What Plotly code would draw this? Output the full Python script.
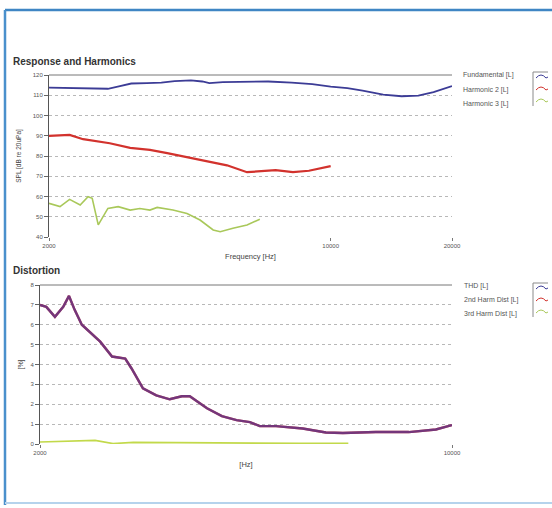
import math
import plotly.graph_objects as go

W, H = 552, 508

# ---------------- data: Response and Harmonics ----------------
FUND_FREQ = [2000, 2300, 2600, 2800, 3000, 3200, 3500, 3800, 4100, 4500, 4800, 5000,
             5400, 6000, 7000, 8000, 9000, 10000, 11000, 12000, 13500, 15000, 16500,
             18000, 20000]
FUND_SPL = [113.8, 113.5, 113.0, 113.2, 114.5, 115.8, 116.0, 116.2, 117.0, 117.3, 116.8,
            116.0, 116.5, 116.7, 116.8, 116.2, 115.5, 114.3, 113.5, 112.3, 110.3, 109.5,
            109.8, 111.5, 114.5]

H2_FREQ = [2000, 2250, 2430, 2680, 2830, 3180, 3560, 3930, 4400, 4930, 5530, 6200, 6800,
           7300, 8060, 8830, 10000]
H2_SPL = [89.9, 90.4, 88.3, 86.8, 86.3, 84.0, 83.0, 81.4, 79.4, 77.3, 75.4, 72.0, 72.7,
          73.0, 72.0, 72.7, 75.0]

H3_FREQ = [2000, 2130, 2250, 2390, 2500, 2560, 2650, 2800, 2970, 3180, 3360, 3560, 3710,
           4060, 4400, 4740, 5110, 5320, 5720, 6200, 6670]
H3_SPL = [56.6, 55.0, 58.6, 55.8, 59.9, 59.1, 46.0, 54.1, 55.0, 53.3, 54.1, 53.3, 54.6,
          53.3, 51.6, 48.4, 43.5, 42.6, 44.3, 45.9, 48.8]

# ---------------- data: Distortion ----------------
THD_FREQ = [2000, 2050, 2120, 2190, 2240, 2290, 2355, 2430, 2530, 2650, 2790, 2860, 2990,
            3150, 3320, 3480, 3590, 3840, 4070, 4310, 4540, 4720, 5030, 5580, 6110, 6530,
            7430, 8450, 9390, 10000]
THD_PCT = [7.0, 6.9, 6.4, 6.9, 7.45, 6.75, 6.0, 5.65, 5.15, 4.4, 4.3, 3.8, 2.8, 2.45, 2.25,
           2.4, 2.4, 1.8, 1.4, 1.2, 1.1, 0.9, 0.9, 0.78, 0.58, 0.55, 0.6, 0.6, 0.73, 0.95]

D2_FREQ = THD_FREQ
D2_PCT = [7.0, 6.9, 6.4, 6.9, 7.45, 6.75, 6.0, 5.65, 5.15, 4.4, 4.3, 3.8, 2.8, 2.45, 2.25,
          2.4, 2.4, 1.8, 1.4, 1.2, 1.1, 0.9, 0.9, 0.78, 0.58, 0.55, 0.6, 0.6, 0.73, 0.95]

D3_FREQ = [2000, 2250, 2480, 2660, 2880, 3400, 3740, 4720, 5520, 6670]
D3_PCT = [0.10, 0.15, 0.18, 0.02, 0.08, 0.07, 0.06, 0.05, 0.03, 0.04]

# ---------------- axis / label text ----------------
TOP_XTICKS = [2000, 10000, 20000]
TOP_XTEXT = ["2000", "10000", "20000"]
TOP_GRID_FREQ = 10000
BOT_XTICKS = [2000, 10000]
BOT_XTEXT = ["2000", "10000"]
TOP_LEGEND = ["Fundamental [L]", "Harmonic 2 [L]", "Harmonic 3 [L]"]
BOT_LEGEND = ["THD [L]", "2nd Harm Dist [L]", "3rd Harm Dist [L]"]

C_BLUE = "#3c3c96"
C_RED = "#d2322d"
C_GREEN = "#a9c85a"
C_GREEN2 = "#c2d94a"
FONT = "Liberation Sans, Arial, sans-serif"
TICK_C = "#555555"


def px(x):
    return x / W


def py(y):
    return 1 - y / H


fig = go.Figure()

fig.add_trace(go.Scatter(x=FUND_FREQ, y=FUND_SPL, name=TOP_LEGEND[0], mode="lines",
                         line=dict(color=C_BLUE, width=1.8), xaxis="x", yaxis="y"))
fig.add_trace(go.Scatter(x=H2_FREQ, y=H2_SPL, name=TOP_LEGEND[1], mode="lines",
                         line=dict(color=C_RED, width=2.2), xaxis="x", yaxis="y"))
fig.add_trace(go.Scatter(x=H3_FREQ, y=H3_SPL, name=TOP_LEGEND[2], mode="lines",
                         line=dict(color=C_GREEN, width=1.6), xaxis="x", yaxis="y"))

fig.add_trace(go.Scatter(x=D2_FREQ, y=D2_PCT, name=BOT_LEGEND[1], mode="lines",
                         line=dict(color=C_RED, width=2.4), xaxis="x2", yaxis="y2"))
fig.add_trace(go.Scatter(x=THD_FREQ, y=THD_PCT, name=BOT_LEGEND[0], mode="lines",
                         line=dict(color="#4838a0", width=2.4), opacity=0.68,
                         xaxis="x2", yaxis="y2"))
fig.add_trace(go.Scatter(x=D3_FREQ, y=D3_PCT, name=BOT_LEGEND[2], mode="lines",
                         line=dict(color=C_GREEN2, width=1.6), xaxis="x2", yaxis="y2"))

common_x = dict(type="log", showgrid=False, zeroline=False, showline=False,
                automargin=False,
                ticks="outside", ticklen=3, tickcolor="#777", tickwidth=1,
                tickfont=dict(size=6, color=TICK_C, family=FONT))
common_y = dict(showline=True, linecolor="#555", linewidth=1, zeroline=False,
                automargin=False,
                ticks="outside", ticklen=4, tickcolor="#666",
                showgrid=True, gridcolor="#b8b8b8", griddash="dot", gridwidth=1,
                tickfont=dict(size=6, color=TICK_C, family=FONT))

fig.update_layout(
    width=W, height=H, autosize=False,
    margin=dict(l=0, r=0, t=0, b=0, pad=0),
    paper_bgcolor="white", plot_bgcolor="white",
    showlegend=False,
    font=dict(family=FONT, color="#444"),
    xaxis=dict(common_x, domain=[px(49), px(452)], anchor="y",
               range=[math.log10(2000), math.log10(20000)],
               tickvals=TOP_XTICKS, ticktext=TOP_XTEXT,
               title=dict(text="Frequency [Hz]", standoff=5,
                          font=dict(size=7.5, color="#444", family=FONT))),
    yaxis=dict(common_y, domain=[py(237), py(75)], anchor="x",
               range=[40, 120], dtick=10,
               title=dict(text="SPL [dB re 20uPa]", standoff=10,
                          font=dict(size=6.5, color="#444", family=FONT))),
    xaxis2=dict(common_x, domain=[px(40), px(452)], anchor="y2",
                range=[math.log10(2000), math.log10(10000)],
                tickvals=BOT_XTICKS, ticktext=BOT_XTEXT,
                title=dict(text="[Hz]", standoff=6,
                           font=dict(size=7.5, color="#444", family=FONT))),
    yaxis2=dict(common_y, domain=[py(444), py(285)], anchor="x2",
                range=[0, 8], dtick=1,
                title=dict(text="[%]", standoff=6,
                           font=dict(size=7, color="#444", family=FONT))),
)

shapes = []
# solid top border lines of both plots
for xr, yr in (("x domain", "y domain"), ("x2 domain", "y2 domain")):
    shapes.append(dict(type="line", xref=xr, yref=yr, x0=0, x1=1, y0=1, y1=1,
                       line=dict(color="#777", width=1)))
# dashed vertical grid line at 10 kHz in top plot
shapes.append(dict(type="line", xref="x", yref="y domain",
                   x0=math.log10(TOP_GRID_FREQ), x1=math.log10(TOP_GRID_FREQ), y0=0, y1=1,
                   line=dict(color="#888", width=1, dash="dot")))
# window frame
shapes.append(dict(type="line", xref="paper", yref="paper", x0=px(5), x1=1, y0=py(10), y1=py(10),
                   line=dict(color="#3f86c4", width=2.5)))
shapes.append(dict(type="line", xref="paper", yref="paper", x0=px(5), x1=px(5), y0=py(10), y1=py(505),
                   line=dict(color="#4a90cc", width=2.5)))
shapes.append(dict(type="line", xref="paper", yref="paper", x0=px(5), x1=1, y0=py(503), y1=py(503),
                   line=dict(color="#b5d3ec", width=2)))


def icon(y0):
    out = []
    out.append(dict(type="path", xref="paper", yref="paper",
                    path=f"M {px(548)},{py(y0)} L {px(533)},{py(y0)} L {px(533)},{py(y0 + 34)}",
                    line=dict(color="#8a8a8a", width=1)))
    for dy, col in ((6, C_BLUE), (18, C_RED), (30, C_GREEN)):
        yb = y0 + dy
        out.append(dict(type="path", xref="paper", yref="paper",
                        path=(f"M {px(536)},{py(yb)} Q {px(541)},{py(yb - 6)} "
                              f"{px(546)},{py(yb)} L {px(548)},{py(yb - 1)}"),
                        line=dict(color=col, width=1)))
    return out


shapes += icon(72)
shapes += icon(283)
fig.update_layout(shapes=shapes)

ann = []
ann.append(dict(text="<b>Response and Harmonics</b>", x=px(11), y=py(61), xref="paper", yref="paper",
                xanchor="left", yanchor="middle", showarrow=False,
                font=dict(size=10, color="#333", family=FONT)))
ann.append(dict(text="<b>Distortion</b>", x=px(11), y=py(270), xref="paper", yref="paper",
                xanchor="left", yanchor="middle", showarrow=False,
                font=dict(size=10, color="#333", family=FONT)))
for label, yy in zip(TOP_LEGEND, (75, 89.5, 104)):
    ann.append(dict(text=label, x=px(461), y=py(yy), xref="paper", yref="paper",
                    xanchor="left", yanchor="middle", showarrow=False,
                    font=dict(size=7, color="#555", family=FONT)))
for label, yy in zip(BOT_LEGEND, (286, 300, 314)):
    ann.append(dict(text=label, x=px(462), y=py(yy), xref="paper", yref="paper",
                    xanchor="left", yanchor="middle", showarrow=False,
                    font=dict(size=7, color="#555", family=FONT)))
fig.update_layout(annotations=ann)

fig.write_html(
    "out.html",
    config={"displayModeBar": False},
    post_script="document.body.style.margin='0px';document.body.style.overflow='hidden';",
)
